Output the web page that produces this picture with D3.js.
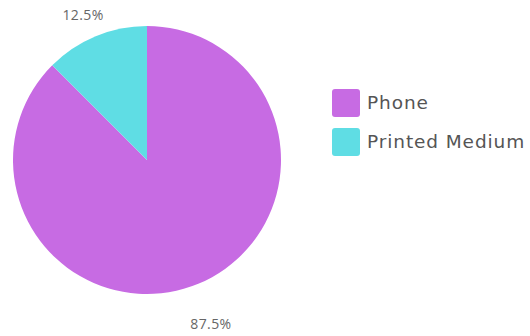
<!DOCTYPE html>
<html>
<head>
  <meta charset="utf-8">
  <script src="https://d3js.org/d3.v7.min.js"></script>
  <style>
    body { margin: 0; background: #fff; }
    text { font-family: "Open Sans", Lato, sans-serif; }
  </style>
</head>
<body>
  <svg id="chart" width="530" height="336"></svg>
  <script>
    var categories = ["Phone", "Printed Medium"];
    var values = [87.5, 12.5];
    var colors = ["#c76be3", "#5fdde4"];

    var svg = d3.select("#chart");
    var cx = 147, cy = 160, r = 134;

    var color = d3.scaleOrdinal().domain(categories).range(colors);

    var data = categories.map(function(c, i) { return { name: c, value: values[i] }; });

    var pie = d3.pie().sort(null).value(function(d) { return d.value; });
    var arc = d3.arc().innerRadius(0).outerRadius(r);

    var g = svg.append("g").attr("transform", "translate(" + cx + "," + cy + ")");
    var arcs = pie(data);

    g.selectAll("path")
      .data(arcs)
      .enter().append("path")
        .attr("d", arc)
        .attr("fill", function(d) { return color(d.data.name); });

    // labels outside the pie
    var lr = 167;
    g.selectAll(".lbl")
      .data(arcs)
      .enter().append("text")
        .attr("class", "lbl")
        .attr("x", function(d) { var a = (d.startAngle + d.endAngle) / 2; return lr * Math.sin(a); })
        .attr("y", function(d) { var a = (d.startAngle + d.endAngle) / 2; return -lr * Math.cos(a) + 11; })
        .attr("text-anchor", "middle")
        .attr("dominant-baseline", "middle")
        .attr("font-size", 14)
        .attr("letter-spacing", 0.4)
        .attr("fill", "#666")
        .text(function(d) { return d.data.value + "%"; });

    // legend
    var legend = svg.append("g").attr("transform", "translate(332,89)");
    var item = legend.selectAll("g")
      .data(categories)
      .enter().append("g")
        .attr("transform", function(d, i) { return "translate(0," + (i * 39) + ")"; });

    item.append("rect")
      .attr("width", 28).attr("height", 28)
      .attr("rx", 3)
      .attr("fill", function(d) { return color(d); });

    item.append("text")
      .attr("x", 35).attr("y", 15)
      .attr("dominant-baseline", "middle")
      .style("font-family", "'DejaVu Sans', sans-serif")
      .attr("font-size", 18.5)
      .attr("letter-spacing", 0.9)
      .attr("fill", "#555")
      .text(function(d) { return d; });
  </script>
</body>
</html>
